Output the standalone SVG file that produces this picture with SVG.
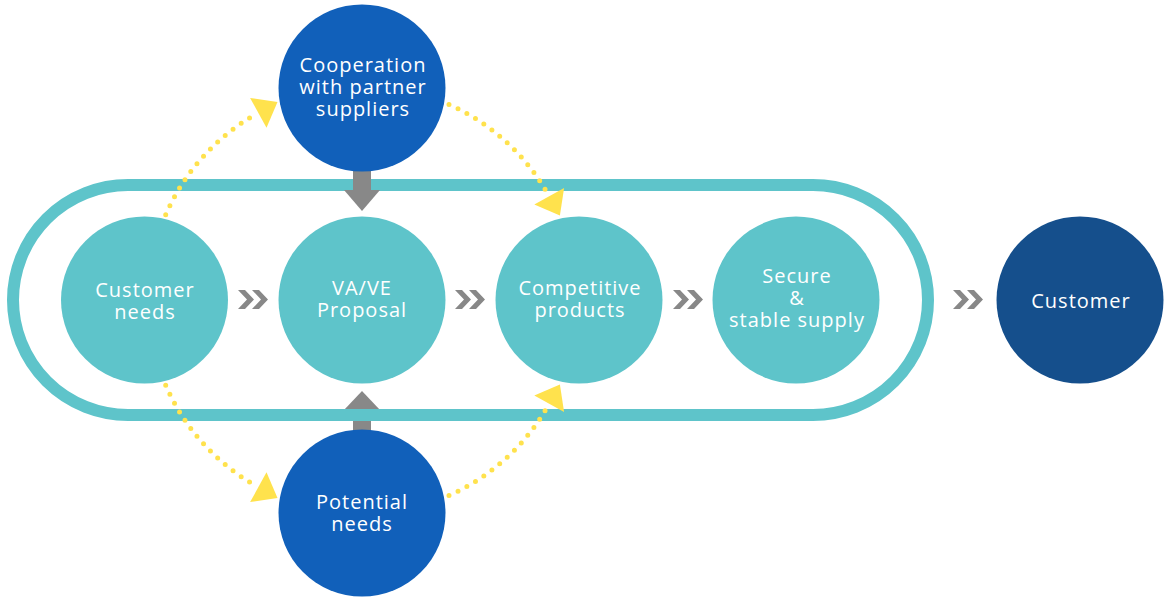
<svg xmlns="http://www.w3.org/2000/svg" xmlns:xlink="http://www.w3.org/1999/xlink" width="1170" height="600" viewBox="0 0 1170 600">
<style>
.teal{fill:#5EC4CA}
.blue{fill:#1160BA}
.navy{fill:#154F8C}
.lbl{font-family:"Open Sans","Noto Sans","Liberation Sans",sans-serif;font-size:20px;fill:#ffffff;text-anchor:middle;letter-spacing:1px}
.dots{fill:none;stroke:#FFE24D;stroke-width:5;stroke-linecap:round;stroke-dasharray:0 10}
.head{fill:#FFE24D}
.gray{fill:#888888}
</style>
<defs>
<g id="chev">
<polygon points="-15,290 -8,290 1,299.5 -8,309 -15,309 -6,299.5" fill="#888888"/>
<polygon points="-1,290 6,290 15,299.5 6,309 -1,309 8,299.5" fill="#888888"/>
</g>
</defs>
<rect width="1170" height="600" fill="#ffffff"/>

<g id="connectors">
<g id="arrow-up">
<rect x="353" y="408" width="18" height="25" class="gray"/>
<polygon points="344,410 380,410 362,391" class="gray"/>
</g>
</g>

<g id="rail">
<rect x="13" y="185" width="915" height="230" rx="115" ry="115" fill="none" stroke="#5EC4CA" stroke-width="12"/>
</g>

<g id="connectors-top">
<g id="arrow-down">
<rect x="353" y="168" width="18" height="24" class="gray"/>
<polygon points="344,190 380,190 362,211" class="gray"/>
</g>
<use xlink:href="#chev" href="#chev" x="253"/>
<use xlink:href="#chev" href="#chev" x="470"/>
<use xlink:href="#chev" href="#chev" x="688"/>
<use xlink:href="#chev" href="#chev" x="968"/>
<path class="dots" d="M165.7,214.7 A214,214 0 0 1 250.2,117.5"/>
<polygon class="head" points="277.5,102.1 250.1,97.9 266.5,127.7"/>
<path class="dots" d="M449,104.5 A214,214 0 0 1 545.4,189.8"/>
<polygon class="head" points="559.9,215.5 564.1,188.1 534.3,204.5"/>
<path class="dots" d="M165.7,385.3 A214,214 0 0 0 250.2,482.5"/>
<polygon class="head" points="277.5,497.9 250.1,502.1 266.5,472.3"/>
<path class="dots" d="M449,495.5 A214,214 0 0 0 545.4,410.2"/>
<polygon class="head" points="559.9,384.5 564.1,411.9 534.3,395.5"/>
</g>

<g id="node-customer-needs">
<circle cx="144.5" cy="300" r="83.5" class="teal"/>
<text class="lbl" x="145" y="297"><tspan x="145">Customer</tspan><tspan x="145" dy="22">needs</tspan></text>
</g>
<g id="node-vave">
<circle cx="362" cy="300" r="83.5" class="teal"/>
<text class="lbl" x="362" y="295"><tspan x="362">VA/VE</tspan><tspan x="362" dy="22">Proposal</tspan></text>
</g>
<g id="node-competitive">
<circle cx="579" cy="300" r="83.5" class="teal"/>
<text class="lbl" x="580" y="295"><tspan x="580">Competitive</tspan><tspan x="580" dy="22">products</tspan></text>
</g>
<g id="node-secure">
<circle cx="796" cy="300" r="83.5" class="teal"/>
<text class="lbl" x="797" y="283"><tspan x="797">Secure</tspan><tspan x="797" dy="22">&amp;</tspan><tspan x="797" dy="22">stable supply</tspan></text>
</g>
<g id="node-customer">
<circle cx="1080" cy="300" r="83.5" class="navy"/>
<text class="lbl" x="1081" y="308">Customer</text>
</g>
<g id="node-cooperation">
<circle cx="362" cy="88" r="83.5" class="blue"/>
<text class="lbl" x="363" y="72"><tspan x="363">Cooperation</tspan><tspan x="363" dy="22">with partner</tspan><tspan x="363" dy="22">suppliers</tspan></text>
</g>
<g id="node-potential">
<circle cx="362" cy="513" r="83.5" class="blue"/>
<text class="lbl" x="362" y="509"><tspan x="362">Potential</tspan><tspan x="362" dy="22">needs</tspan></text>
</g>
</svg>
